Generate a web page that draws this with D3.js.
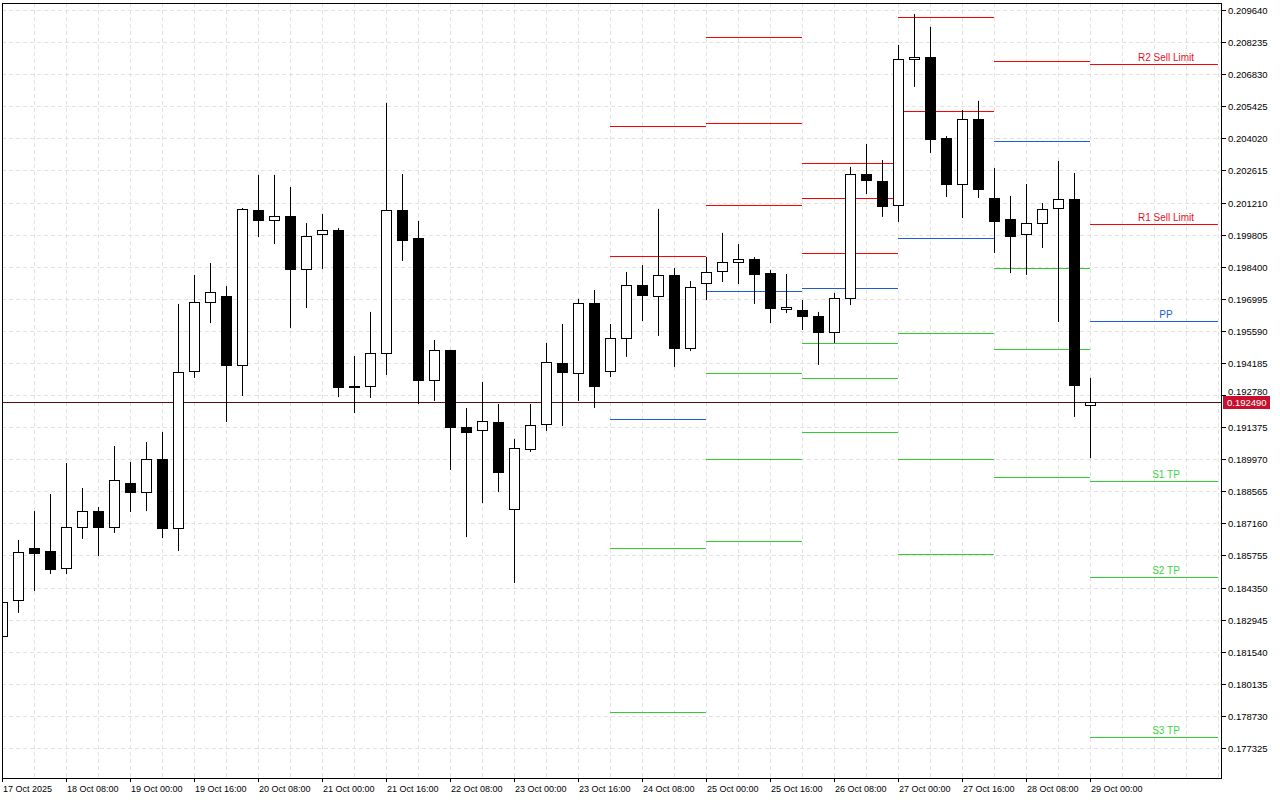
<!DOCTYPE html>
<html><head><meta charset="utf-8">
<script src="https://cdn.jsdelivr.net/npm/d3@7/dist/d3.min.js"></script>
<style>body{margin:0;background:#fff}svg{display:block}text{font-family:"Liberation Sans",Arial,sans-serif}</style>
</head><body><svg id="c" width="1280" height="800"></svg>
<script>
const opens  = [0.18223,0.18381,0.18608,0.18595,0.18521,0.18700,0.18770,0.18700,0.18893,0.18853,0.18998,0.18696,0.19383,0.19685,0.19712,0.19410,0.20088,0.20044,0.20062,0.19830,0.19983,0.20001,0.19318,0.19318,0.19462,0.20088,0.19966,0.19344,0.19475,0.19138,0.19125,0.19160,0.18779,0.19042,0.19151,0.19418,0.19375,0.19681,0.19383,0.19528,0.19760,0.19712,0.19804,0.19484,0.19769,0.19821,0.19861,0.19874,0.19812,0.19655,0.19650,0.19624,0.19554,0.19703,0.20246,0.20215,0.20110,0.20749,0.20758,0.20404,0.20202,0.20487,0.20141,0.20049,0.19983,0.20031,0.20097,0.20136,0.19234];
const highs  = [0.18381,0.18643,0.18770,0.18845,0.18980,0.18871,0.18788,0.19055,0.18985,0.19072,0.19116,0.19677,0.19804,0.19856,0.19755,0.20097,0.20242,0.20242,0.20189,0.20031,0.20071,0.20009,0.19449,0.19642,0.20557,0.20246,0.20040,0.19519,0.19476,0.19221,0.19335,0.19239,0.19086,0.19239,0.19506,0.19589,0.19699,0.19738,0.19589,0.19817,0.19847,0.20093,0.19834,0.19777,0.19882,0.19988,0.19939,0.19882,0.19826,0.19808,0.19694,0.19642,0.19725,0.20277,0.20377,0.20307,0.20811,0.20946,0.20890,0.20412,0.20526,0.20566,0.20272,0.20150,0.20202,0.20119,0.20303,0.20250,0.19353];
const lows   = [0.18219,0.18324,0.18420,0.18494,0.18494,0.18648,0.18573,0.18674,0.18766,0.18770,0.18652,0.18595,0.19353,0.19593,0.19160,0.19274,0.19970,0.19939,0.19572,0.19659,0.19830,0.19269,0.19199,0.19265,0.19366,0.19865,0.19239,0.19252,0.18950,0.18656,0.18805,0.18853,0.18455,0.19029,0.19121,0.19142,0.19252,0.19221,0.19357,0.19445,0.19602,0.19537,0.19401,0.19471,0.19694,0.19773,0.19764,0.19677,0.19593,0.19637,0.19563,0.19410,0.19506,0.19672,0.20158,0.20058,0.20036,0.20627,0.20338,0.20145,0.20053,0.20141,0.19900,0.19812,0.19804,0.19922,0.19598,0.19182,0.19002];
const closes = [0.18372,0.18591,0.18586,0.18516,0.18700,0.18770,0.18700,0.18906,0.18853,0.18998,0.18696,0.19379,0.19685,0.19729,0.19410,0.20093,0.20044,0.20062,0.19830,0.19974,0.20001,0.19313,0.19317,0.19462,0.20088,0.19957,0.19344,0.19475,0.19138,0.19116,0.19164,0.18941,0.19046,0.19147,0.19423,0.19379,0.19681,0.19318,0.19528,0.19760,0.19716,0.19804,0.19484,0.19751,0.19817,0.19861,0.19874,0.19808,0.19659,0.19664,0.19624,0.19554,0.19703,0.20246,0.20220,0.20106,0.20749,0.20758,0.20399,0.20202,0.20487,0.20180,0.20040,0.19974,0.20031,0.20093,0.20136,0.19322,0.19249];
const tickLabels = ["17 Oct 2025","18 Oct 08:00","19 Oct 00:00","19 Oct 16:00","20 Oct 08:00","21 Oct 00:00","21 Oct 16:00","22 Oct 08:00","23 Oct 00:00","23 Oct 16:00","24 Oct 08:00","25 Oct 00:00","25 Oct 16:00","26 Oct 08:00","27 Oct 00:00","27 Oct 16:00","28 Oct 08:00","29 Oct 00:00"];
const priceTicks = [0.209640,0.208235,0.206830,0.205425,0.204020,0.202615,0.201210,0.199805,0.198400,0.196995,0.195590,0.194185,0.192780,0.191375,0.189970,0.188565,0.187160,0.185755,0.184350,0.182945,0.181540,0.180135,0.178730,0.177325];
const currentPrice = 0.19249;
const pivotStarts = [38,44,50,56,62,68];
const pivotEnds   = [44,50,56,62,68,76];
const pivotLevels = [
  [[0.20454,"R"],[0.19886,"R"],[0.19174,"P"],[0.18610,"S"],[0.17891,"S"]],
  [[0.20844,"R"],[0.20470,"R"],[0.20110,"R"],[0.19735,"P"],[0.19373,"S"],[0.19000,"S"],[0.18640,"S"]],
  [[0.20295,"R"],[0.20141,"R"],[0.19901,"R"],[0.19747,"P"],[0.19506,"S"],[0.19353,"S"],[0.19118,"S"]],
  [[0.20933,"R"],[0.20520,"R"],[0.19964,"P"],[0.19550,"S"],[0.18997,"S"],[0.18582,"S"]],
  [[0.20739,"R"],[0.20389,"P"],[0.19833,"S"],[0.19478,"S"],[0.18920,"S"]],
  [[0.20728,"R"],[0.20027,"R"],[0.19602,"P"],[0.18902,"S"],[0.18481,"S"],[0.17781,"S"]]
];
const lastLabels = ["R2 Sell Limit","R1 Sell Limit","PP","S1 TP","S2 TP","S3 TP"];
const colors = {R:"#ff0000",P:"#1e5cd6",S:"#33cc33"};
const labelColors = {R:"#e8102a",P:"#1e5cd6",S:"#44d044"};

const svg = d3.select("#c");
const L=2,R=1222,T=3,B=778;
const x = d3.scaleLinear().domain([0,76]).range([2,1218]);
const y = d3.scaleLinear().domain([0.177325,0.20964]).range([748,10]);
svg.append("defs").append("clipPath").attr("id","clip").append("rect").attr("x",L).attr("y",T).attr("width",R-L).attr("height",B-T);
const g = svg.append("g").attr("clip-path","url(#clip)");
g.selectAll(".hg").data(priceTicks).join("line").attr("x1",L).attr("x2",R).attr("y1",d=>Math.round(y(d))+0.5).attr("y2",d=>Math.round(y(d))+0.5).attr("stroke","#e2e2e2").attr("stroke-dasharray","4,3");
g.selectAll(".vg").data(d3.range(0,77,2)).join("line").attr("x1",d=>x(d)+0.5).attr("x2",d=>x(d)+0.5).attr("y1",T).attr("y2",B).attr("stroke","#e2e2e2").attr("stroke-dasharray","4,3");
pivotLevels.forEach((lv,k)=>{
  lv.forEach((l,j)=>{
    const yy=Math.round(y(l[0]))+0.5;
    g.append("line").attr("x1",x(pivotStarts[k])).attr("x2",x(pivotEnds[k])).attr("y1",yy).attr("y2",yy).attr("stroke",colors[l[1]]).attr("stroke-width",1);
    if(k===pivotLevels.length-1){
      g.append("text").attr("x",1166).attr("y",yy-4).attr("text-anchor","middle").attr("font-size",10).attr("fill",labelColors[l[1]]).text(lastLabels[j]);
    }
  });
});
g.append("line").attr("x1",L).attr("x2",R).attr("y1",Math.round(y(currentPrice))+0.5).attr("y2",Math.round(y(currentPrice))+0.5).attr("stroke","#5a1010").attr("stroke-width",1);
const idx=d3.range(opens.length);
g.selectAll(".wick").data(idx).join("line").attr("x1",i=>x(i)+0.5).attr("x2",i=>x(i)+0.5).attr("y1",i=>y(highs[i])).attr("y2",i=>y(lows[i])).attr("stroke","#000").attr("stroke-width",1);
g.selectAll(".body").data(idx).join("rect")
 .attr("x",i=>x(i)-4.5).attr("width",10)
 .attr("y",i=>Math.round(y(Math.max(opens[i],closes[i])))+0.5)
 .attr("height",i=>Math.max(1,Math.round(Math.abs(y(opens[i])-y(closes[i])))))
 .attr("fill",i=>closes[i]>=opens[i]?"#fff":"#000").attr("stroke","#000").attr("stroke-width",1);
svg.append("rect").attr("x",L+0.5).attr("y",T+0.5).attr("width",R-L-1).attr("height",B-T).attr("fill","none").attr("stroke","#000");
const ya=svg.append("g");
const cy=Math.round(y(currentPrice));
priceTicks.forEach(p=>{const yy=Math.round(y(p))+0.5;
  ya.append("line").attr("x1",R).attr("x2",R+4).attr("y1",yy).attr("y2",yy).attr("stroke","#000");
  if(Math.abs(yy-cy)>9) ya.append("text").attr("x",R+6).attr("y",yy+3.5).attr("font-size",9.5).attr("fill","#000").text(p.toFixed(6));
  else ya.append("text").attr("x",R+6).attr("y",cy-7).attr("font-size",9.5).attr("fill","#000").attr("clip-path","url(#cl2)").text(p.toFixed(6));});
ya.append("clipPath").attr("id","cl2").append("rect").attr("x",R).attr("y",cy-14).attr("width",60).attr("height",7);
ya.append("rect").attr("x",R+1).attr("y",cy-6).attr("width",47).attr("height",13).attr("fill","#c8102e");
ya.append("text").attr("x",R+5).attr("y",cy+4).attr("font-size",9.5).attr("fill","#fff").text(currentPrice.toFixed(6));
tickLabels.forEach((t,k)=>{const xx=x(k*4);
  svg.append("line").attr("x1",xx+0.5).attr("x2",xx+0.5).attr("y1",B).attr("y2",B+4).attr("stroke","#000");
  svg.append("text").attr("x",xx+1).attr("y",B+14).attr("font-size",9).attr("fill","#000").text(t);});
</script></body></html>
